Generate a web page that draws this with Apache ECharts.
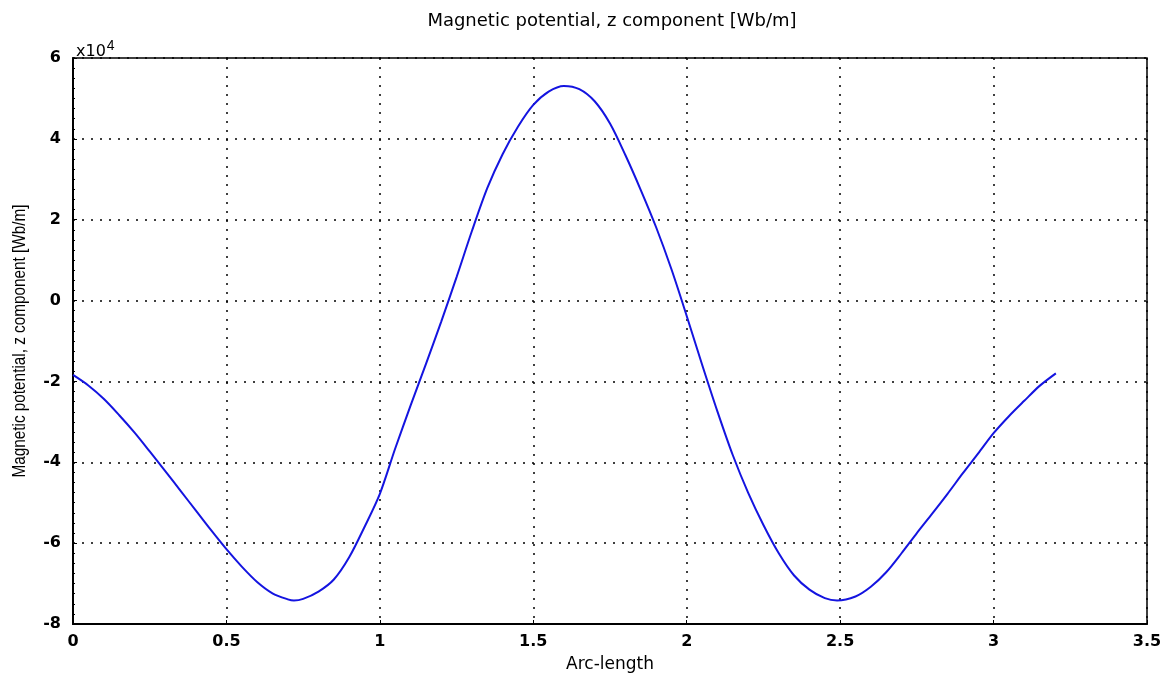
<!DOCTYPE html>
<html>
<head>
<meta charset="utf-8">
<title>Magnetic potential, z component</title>
<script src="https://cdn.jsdelivr.net/npm/echarts@6/dist/echarts.min.js"></script>
<style>
  html, body { margin: 0; padding: 0; background: #fff; }
  #chart { width: 1170px; height: 676px; }
</style>
</head>
<body>
<div id="chart"></div>
<script>
// arc-length samples and Az values (in units of 1e4 Wb/m)
var arcLength = [
  0, 0.05, 0.1, 0.15, 0.2, 0.25, 0.3, 0.35, 0.4, 0.45,
  0.5, 0.55, 0.6, 0.65, 0.7, 0.72, 0.75, 0.8, 0.85, 0.9,
  0.95, 1.0, 1.05, 1.1, 1.15, 1.2, 1.25, 1.3, 1.35, 1.4,
  1.45, 1.5, 1.55, 1.6, 1.65, 1.7, 1.75, 1.8, 1.85, 1.9,
  1.95, 2.0, 2.05, 2.1, 2.15, 2.2, 2.25, 2.3, 2.35, 2.4,
  2.45, 2.49, 2.55, 2.6, 2.65, 2.7, 2.75, 2.8, 2.85, 2.9,
  2.95, 3.0, 3.05, 3.1, 3.15, 3.203
];
var potentialZ = [
  -1.84, -2.1, -2.43, -2.83, -3.26, -3.73, -4.21, -4.7, -5.19, -5.68,
  -6.15, -6.58, -6.96, -7.24, -7.39, -7.42, -7.38, -7.2, -6.9, -6.35,
  -5.6, -4.78, -3.66, -2.6, -1.57, -0.52, 0.58, 1.72, 2.78, 3.62,
  4.3, 4.84, 5.17, 5.31, 5.23, 4.93, 4.38, 3.6, 2.74, 1.82,
  0.78, -0.38, -1.58, -2.74, -3.82, -4.75, -5.55, -6.25, -6.8, -7.15,
  -7.36, -7.42, -7.32, -7.08, -6.72, -6.25, -5.75, -5.27, -4.78, -4.27,
  -3.78, -3.28, -2.86, -2.48, -2.11, -1.8
];
var yTitle = "Magnetic potential, z component [Wb/m]";

var chart = echarts.init(document.getElementById("chart"));

var pts = arcLength.map(function (x, i) {
  return [x, potentialZ[i]];
});

var option = {
  backgroundColor: "#ffffff",
  animation: false,
  title: {
    text: "Magnetic potential, z component [Wb/m]",
    left: 607,
    textAlign: "center",
    top: 7,
    textStyle: {
      fontFamily: "DejaVu Sans",
      fontSize: 18,
      fontWeight: "normal",
      color: "#000"
    }
  },
  grid: {
    left: 73,
    right: 23,
    top: 58,
    bottom: 52,
    outerBoundsMode: "none",
    show: true,
    borderColor: "#000",
    borderWidth: 1.5
  },
  graphic: [
    {
      type: "text",
      left: 76,
      top: 39,
      style: {
        text: "x10{sup|4}",
        fontFamily: "DejaVu Sans",
        fontSize: 16,
        fill: "#000",
        rich: {
          sup: { fontSize: 14, verticalAlign: "top", padding: [0, 0, 12, 1], fill: "#000" }
        }
      }
    },
    {
      // y-axis title: condensed, taller glyphs as in the original
      type: "text",
      x: 20,
      y: 341,
      rotation: Math.PI / 2,
      scaleX: 0.85,
      style: {
        text: yTitle,
        fontFamily: "Liberation Sans",
        fontSize: 18,
        fill: "#000",
        align: "center",
        verticalAlign: "middle"
      }
    }
  ],
  xAxis: {
    type: "value",
    min: 0,
    max: 3.5,
    interval: 0.5,
    name: "Arc-length",
    nameLocation: "middle",
    nameGap: 32,
    nameTextStyle: { fontFamily: "DejaVu Sans", fontSize: 17, color: "#000" },
    axisLine: { onZero: false, lineStyle: { color: "#000", width: 2 } },
    axisTick: { inside: true, length: 4, lineStyle: { color: "#000" } },
    axisLabel: {
      margin: 10,
      fontFamily: "DejaVu Sans",
      fontSize: 16,
      fontWeight: "bold",
      color: "#000",
      formatter: function (v) { return String(v); }
    },
    splitLine: { show: true, lineStyle: { color: "#000", type: [2, 7], width: 1.5 } }
  },
  yAxis: {
    type: "value",
    min: -8,
    max: 6,
    interval: 2,
    axisLine: { onZero: false, lineStyle: { color: "#000", width: 2 } },
    axisTick: { inside: true, length: 4, lineStyle: { color: "#000" } },
    minorTick: { show: true, splitNumber: 8, length: 2, lineStyle: { color: "#000" } },
    axisLabel: {
      margin: 12,
      fontFamily: "DejaVu Sans",
      fontSize: 16,
      fontWeight: "bold",
      color: "#000"
    },
    splitLine: { show: true, lineStyle: { color: "#000", type: [2, 7], width: 1.5 } }
  },
  series: [
    {
      type: "line",
      data: pts,
      showSymbol: false,
      smooth: 0.3,
      lineStyle: { color: "#1414e0", width: 2 },
      itemStyle: { color: "#1414e0" }
    }
  ]
};

chart.setOption(option);
</script>
</body>
</html>
